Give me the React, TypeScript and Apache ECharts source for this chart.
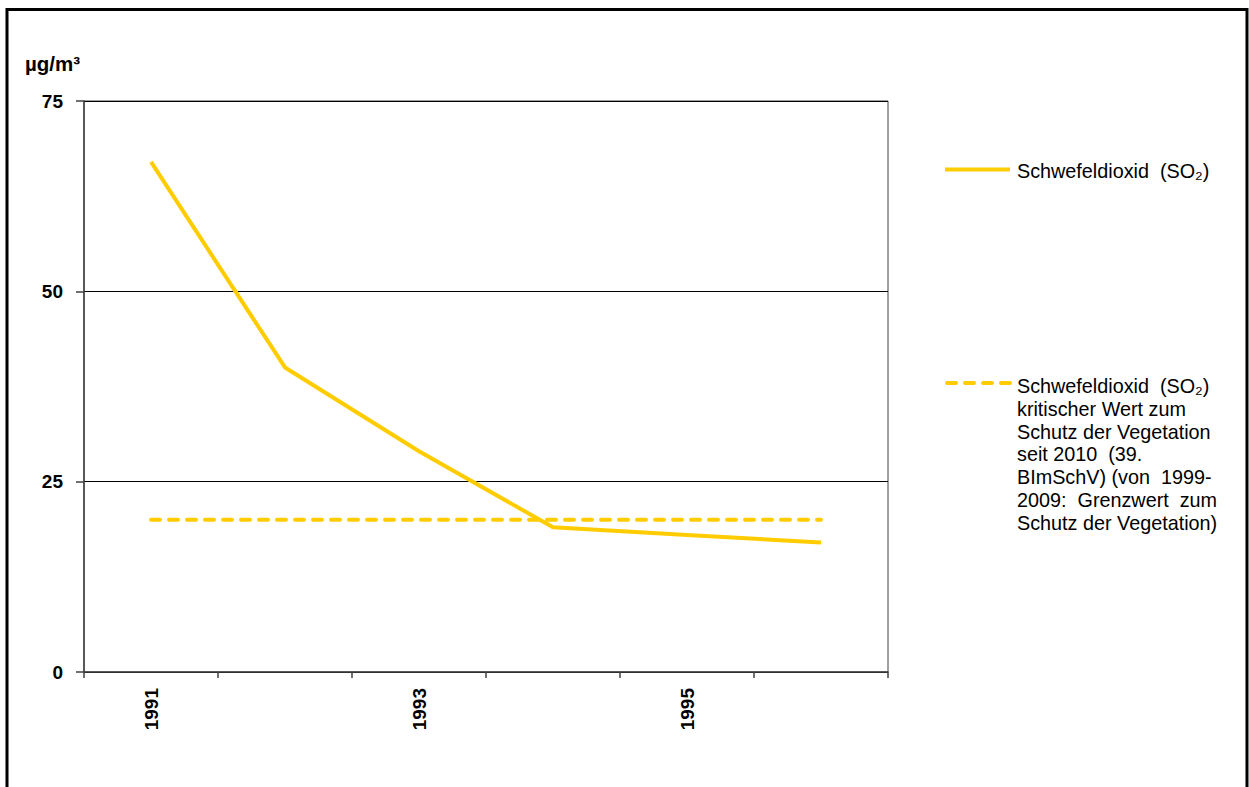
import React, { useEffect, useRef } from "react";
import * as echarts from "echarts";

const categories = ["1991", "1992", "1993", "1994", "1995", "1996"];
const so2Values = [67, 40, 29, 19, 18, 17];
const criticalValues = [20, 20, 20, 20, 20, 20];
const seriesNames = [
  "Schwefeldioxid  (SO₂)",
  "Schwefeldioxid  (SO₂)\nkritischer Wert zum\nSchutz der Vegetation\nseit 2010  (39.\nBImSchV) (von  1999-\n2009:  Grenzwert  zum\nSchutz der Vegetation)",
];
const unitLabel = "µg/m³";
const lineColor = "#FFCC00";

export default function App() {
  const ref = useRef<HTMLDivElement>(null);
  useEffect(() => {
    if (!ref.current) return;
    const chart = echarts.init(ref.current, null, { renderer: "svg" });
    const font = "'Liberation Sans', Arial, sans-serif";
    chart.setOption({
      animation: false,
      backgroundColor: "#ffffff",
      grid: {
        left: 84,
        top: 101,
        right: 361,
        bottom: 115,
        show: true,
        borderColor: "#404040",
        borderWidth: 1,
        backgroundColor: "transparent",
      },
      xAxis: {
        type: "category",
        data: categories,
        boundaryGap: true,
        axisLine: { lineStyle: { color: "#404040", width: 1.5 } },
        axisTick: { show: true, interval: 0, length: 6, lineStyle: { color: "#404040", width: 1.5 } },
        axisLabel: {
          interval: 1,
          rotate: 90,
          margin: 16,
          fontFamily: font,
          fontWeight: "bold",
          fontSize: 19,
          color: "#000",
        },
        splitLine: { show: false },
      },
      yAxis: {
        type: "value",
        min: 0,
        max: 75,
        interval: 25,
        axisLine: { show: true, lineStyle: { color: "#404040", width: 1.5 } },
        axisTick: { show: true, length: 8, lineStyle: { color: "#404040", width: 1.5 } },
        axisLabel: {
          margin: 21,
          fontFamily: font,
          fontWeight: "bold",
          fontSize: 19,
          color: "#000",
        },
        splitLine: { show: true, lineStyle: { color: "#000", width: 1.2 } },
      },
      series: [
        {
          name: seriesNames[0],
          type: "line",
          data: so2Values,
          symbol: "none",
          lineStyle: { color: lineColor, width: 4 },
          z: 3,
        },
        {
          name: seriesNames[1],
          type: "line",
          data: criticalValues,
          symbol: "none",
          lineStyle: { color: lineColor, width: 4, type: [9, 9], cap: "round" },
          z: 2,
        },
      ],
      graphic: [
        {
          type: "rect",
          shape: { x: 7, y: 9.5, width: 1240, height: 800 },
          style: { fill: "none", stroke: "#000", lineWidth: 3 },
          silent: true,
        },
        {
          type: "text",
          x: 25,
          y: 63,
          style: {
            text: unitLabel,
            fontFamily: font,
            fontWeight: "bold",
            fontSize: 20.5,
            fill: "#000",
            verticalAlign: "middle",
          },
        },
        {
          type: "line",
          shape: { x1: 945, y1: 169.5, x2: 1010, y2: 169.5 },
          style: { stroke: lineColor, lineWidth: 4 },
        },
        {
          type: "text",
          x: 1017,
          y: 171,
          style: {
            text: seriesNames[0],
            fontFamily: font,
            fontSize: 19.8,
            fill: "#000",
            verticalAlign: "middle",
          },
        },
        {
          type: "line",
          shape: { x1: 947, y1: 383, x2: 1010, y2: 383 },
          style: { stroke: lineColor, lineWidth: 4, lineDash: [9, 9], lineCap: "round" },
        },
        {
          type: "text",
          x: 1017,
          y: 375,
          style: {
            text: seriesNames[1],
            fontFamily: font,
            fontSize: 19.8,
            lineHeight: 22.7,
            fill: "#000",
            verticalAlign: "top",
          },
        },
      ],
    });
    return () => chart.dispose();
  }, []);
  return (
    <div
      ref={ref}
      style={{ position: "fixed", left: 0, top: 0, width: 1249, height: 787, background: "#fff" }}
    />
  );
}
